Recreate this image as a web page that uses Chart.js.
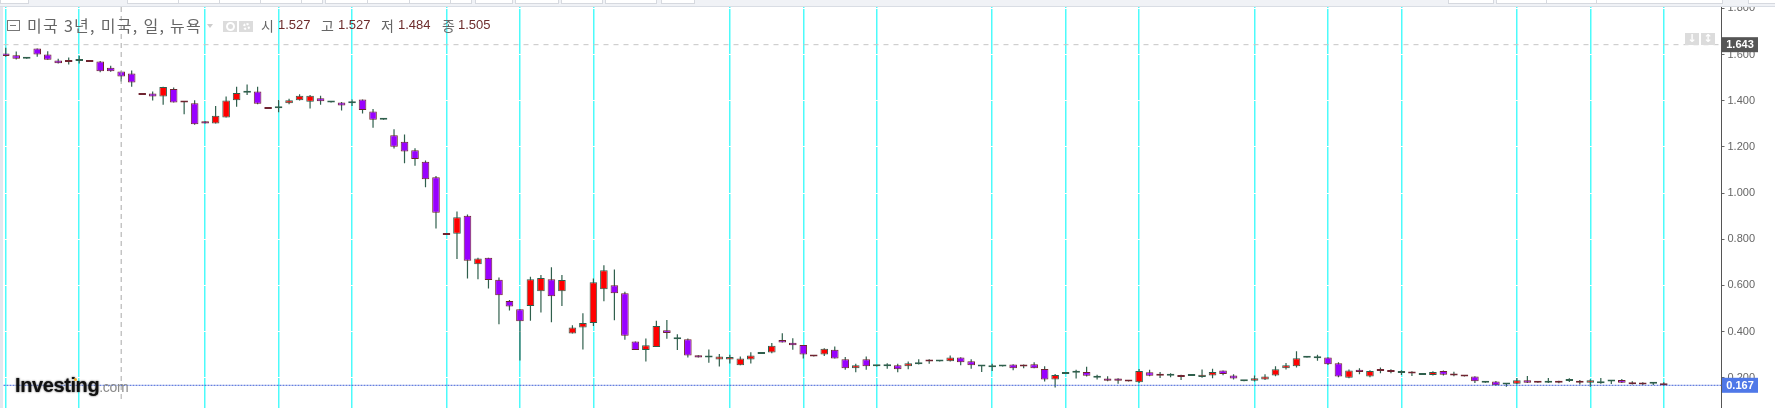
<!DOCTYPE html>
<html>
<head>
<meta charset="utf-8">
<title>미국 3년</title>
<script src="https://cdn.jsdelivr.net/npm/chart.js@4"></script>
<style>
    html, body { margin: 0; padding: 0; background: #fff; overflow: hidden; }
    #wrap { position: relative; width: 1775px; height: 408px; overflow: hidden; }
    canvas { position: absolute; left: 0; top: 0; }
    #toolbar { position: absolute; left: 0; top: 0; width: 1775px; height: 6px; background: #f0f2f6; border-bottom: 1px solid #d9dde4; }
    #toolbar i { position: absolute; top: -1px; height: 3px; background: #fff; border: 1px solid #d6d9df; }
    #leftbar { position: absolute; left: 0; top: 7px; width: 3px; height: 401px; background: #e4e7ee; }
    .t { position: absolute; top: 15px; line-height: 20px; white-space: nowrap; }
    .lab { font: 14px 'Noto Sans CJK KR', sans-serif; line-height: 20px; color: #666; }
    .val { font: 13px 'Liberation Sans', sans-serif; line-height: 20px; color: #6d2c2c; }
    .box { position: absolute; background: #dcdcdc; }
    #logo { position: absolute; left: 15px; top: 374px; white-space: nowrap; font: bold 20px 'Liberation Sans', sans-serif; letter-spacing: -0.4px; color: #111; text-shadow: 0 0 2px #444; }
    #logo span { font: 14px 'Liberation Sans', sans-serif; letter-spacing: -0.3px; color: #8a8a8a; text-shadow: none; }
</style>
</head>
<body>
<div id="wrap">
    <canvas id="chart" width="1775" height="408"></canvas>
    <div id="toolbar">
        <i style="left:0;width:27px"></i><i style="left:127px;width:50px"></i><i style="left:178px;width:41px"></i>
        <i style="left:219px;width:41px"></i><i style="left:260px;width:41px"></i><i style="left:301px;width:20px"></i>
        <i style="left:325px;width:42px"></i><i style="left:367px;width:42px"></i><i style="left:409px;width:41px"></i>
        <i style="left:450px;width:20px"></i><i style="left:475px;width:36px"></i><i style="left:515px;width:42px"></i>
        <i style="left:561px;width:40px"></i><i style="left:605px;width:50px"></i><i style="left:661px;width:32px"></i>
        <i style="left:1448px;width:44px"></i><i style="left:1496px;width:50px"></i><i style="left:1546px;width:50px"></i>
        <i style="left:1596px;width:125px"></i><i style="left:1748px;width:27px"></i>
    </div>
    <div id="leftbar"></div>

    <div style="position:absolute;left:7px;top:20px;width:11px;height:9px;border:1px solid #777;"></div>
    <div style="position:absolute;left:10px;top:25px;width:6px;height:1px;background:#777;"></div>
    <div class="t lab" style="left:27px;font-size:16px;letter-spacing:1.3px;">미국 3년, 미국, 일, 뉴욕</div>
    <div style="position:absolute;left:207px;top:24px;width:0;height:0;border-left:3px solid transparent;border-right:3px solid transparent;border-top:4px solid #ccc;"></div>
    <div class="box" style="left:223px;top:21px;width:14px;height:11px;"></div>
    <div style="position:absolute;left:226px;top:22px;width:5px;height:5px;border:2px solid #fff;border-radius:50%;"></div>
    <div class="box" style="left:239px;top:21px;width:14px;height:11px;"></div>
    <div style="position:absolute;left:243px;top:23px;width:3px;height:3px;border:2px dotted #fff;border-radius:50%;"></div>

    <div class="t lab" style="left:261px;">시</div><div class="t val" style="left:278px;">1.527</div>
    <div class="t lab" style="left:321px;">고</div><div class="t val" style="left:338px;">1.527</div>
    <div class="t lab" style="left:381px;">저</div><div class="t val" style="left:398px;">1.484</div>
    <div class="t lab" style="left:442px;">종</div><div class="t val" style="left:458px;">1.505</div>

    <div class="box" style="left:1685px;top:33px;width:14px;height:12px;color:#fff;font:bold 11px 'DejaVu Sans';line-height:12px;text-align:center;">↓</div>
    <div class="box" style="left:1701px;top:33px;width:14px;height:12px;color:#fff;font:bold 11px 'DejaVu Sans';line-height:12px;text-align:center;">↕</div>

    <div id="logo">Investing<span>.com</span></div>
    <div style="position:absolute;left:74px;top:378px;width:3px;height:3px;background:#f5a623;border-radius:50%;"></div>
</div>

<script>
    // One entry per trading day
    const opens = [
        1.605, 1.597, 1.582, 1.626, 1.601, 1.575, 1.575, 1.572, 1.576, 1.570,
        1.543, 1.527, 1.518, 1.431, 1.431, 1.419, 1.451, 1.395, 1.389, 1.311,
        1.301, 1.327, 1.402, 1.435, 1.440, 1.369, 1.367, 1.389, 1.402, 1.396,
        1.411, 1.392, 1.393, 1.389, 1.406, 1.353, 1.318, 1.251, 1.222, 1.186,
        1.136, 1.068, 0.824, 0.824, 0.902, 0.691, 0.720, 0.624, 0.532, 0.496,
        0.511, 0.575, 0.627, 0.575, 0.391, 0.417, 0.437, 0.583, 0.600, 0.566,
        0.357, 0.320, 0.333, 0.405, 0.366, 0.366, 0.297, 0.287, 0.279, 0.279,
        0.254, 0.279, 0.303, 0.309, 0.363, 0.351, 0.342, 0.296, 0.300, 0.321,
        0.280, 0.241, 0.280, 0.250, 0.250, 0.254, 0.250, 0.258, 0.273, 0.270,
        0.271, 0.287, 0.271, 0.248, 0.245, 0.248, 0.257, 0.251, 0.258, 0.238,
        0.192, 0.216, 0.221, 0.225, 0.200, 0.196, 0.196, 0.187, 0.180, 0.223,
        0.216, 0.208, 0.209, 0.207, 0.203, 0.209, 0.231, 0.209, 0.184, 0.187,
        0.192, 0.209, 0.241, 0.249, 0.286, 0.284, 0.287, 0.263, 0.200, 0.234,
        0.205, 0.235, 0.231, 0.220, 0.222, 0.212, 0.212, 0.229, 0.218, 0.209,
        0.205, 0.178, 0.183, 0.170, 0.174, 0.189, 0.184, 0.178, 0.184, 0.186,
        0.184, 0.178, 0.176, 0.183, 0.190, 0.176, 0.176, 0.174, 0.176
    ];
    const highs = [
        1.630, 1.613, 1.585, 1.626, 1.615, 1.582, 1.588, 1.595, 1.576, 1.572,
        1.552, 1.527, 1.531, 1.431, 1.440, 1.461, 1.458, 1.395, 1.402, 1.311,
        1.377, 1.418, 1.461, 1.470, 1.461, 1.369, 1.403, 1.409, 1.428, 1.425,
        1.422, 1.395, 1.395, 1.406, 1.406, 1.364, 1.321, 1.277, 1.254, 1.194,
        1.141, 1.074, 0.824, 0.920, 0.907, 0.720, 0.720, 0.634, 0.537, 0.496,
        0.637, 0.645, 0.678, 0.645, 0.427, 0.479, 0.630, 0.687, 0.669, 0.572,
        0.357, 0.370, 0.447, 0.450, 0.388, 0.370, 0.297, 0.322, 0.303, 0.299,
        0.292, 0.310, 0.306, 0.350, 0.393, 0.371, 0.342, 0.296, 0.328, 0.335,
        0.290, 0.260, 0.292, 0.254, 0.263, 0.260, 0.270, 0.280, 0.280, 0.273,
        0.296, 0.289, 0.280, 0.251, 0.260, 0.251, 0.258, 0.257, 0.267, 0.250,
        0.216, 0.219, 0.234, 0.247, 0.213, 0.206, 0.197, 0.187, 0.238, 0.234,
        0.225, 0.219, 0.213, 0.210, 0.235, 0.239, 0.231, 0.215, 0.189, 0.209,
        0.215, 0.249, 0.264, 0.315, 0.289, 0.299, 0.289, 0.267, 0.235, 0.241,
        0.232, 0.244, 0.236, 0.232, 0.228, 0.218, 0.228, 0.231, 0.226, 0.209,
        0.206, 0.184, 0.186, 0.176, 0.199, 0.207, 0.184, 0.199, 0.187, 0.197,
        0.190, 0.193, 0.199, 0.189, 0.194, 0.184, 0.180, 0.180, 0.180
    ];
    const lows = [
        1.591, 1.579, 1.582, 1.591, 1.578, 1.562, 1.557, 1.562, 1.568, 1.524,
        1.526, 1.484, 1.461, 1.425, 1.401, 1.383, 1.392, 1.341, 1.296, 1.301,
        1.301, 1.327, 1.374, 1.425, 1.385, 1.364, 1.350, 1.385, 1.401, 1.366,
        1.383, 1.392, 1.358, 1.377, 1.345, 1.283, 1.318, 1.193, 1.129, 1.118,
        1.025, 0.846, 0.818, 0.714, 0.630, 0.626, 0.586, 0.431, 0.491, 0.274,
        0.447, 0.482, 0.440, 0.511, 0.391, 0.322, 0.424, 0.531, 0.449, 0.364,
        0.320, 0.270, 0.333, 0.369, 0.320, 0.287, 0.287, 0.265, 0.248, 0.261,
        0.254, 0.261, 0.303, 0.306, 0.352, 0.321, 0.283, 0.292, 0.294, 0.283,
        0.234, 0.223, 0.234, 0.248, 0.239, 0.223, 0.236, 0.257, 0.260, 0.270,
        0.270, 0.254, 0.239, 0.225, 0.229, 0.248, 0.232, 0.241, 0.241, 0.183,
        0.157, 0.216, 0.196, 0.205, 0.192, 0.184, 0.174, 0.183, 0.177, 0.206,
        0.199, 0.202, 0.190, 0.207, 0.200, 0.197, 0.210, 0.192, 0.184, 0.183,
        0.190, 0.206, 0.235, 0.244, 0.286, 0.273, 0.255, 0.202, 0.197, 0.215,
        0.202, 0.219, 0.219, 0.212, 0.207, 0.212, 0.209, 0.209, 0.206, 0.205,
        0.177, 0.178, 0.165, 0.161, 0.171, 0.177, 0.178, 0.177, 0.176, 0.181,
        0.170, 0.161, 0.174, 0.173, 0.177, 0.170, 0.168, 0.168, 0.165
    ];
    const closes = [
        1.594, 1.582, 1.585, 1.601, 1.578, 1.563, 1.568, 1.576, 1.568, 1.528,
        1.528, 1.505, 1.479, 1.425, 1.418, 1.460, 1.392, 1.392, 1.298, 1.301,
        1.335, 1.401, 1.434, 1.440, 1.387, 1.364, 1.370, 1.402, 1.422, 1.422,
        1.398, 1.395, 1.379, 1.393, 1.360, 1.318, 1.321, 1.201, 1.180, 1.148,
        1.060, 0.915, 0.818, 0.895, 0.707, 0.716, 0.623, 0.557, 0.508, 0.444,
        0.627, 0.632, 0.553, 0.623, 0.417, 0.437, 0.614, 0.665, 0.566, 0.382,
        0.320, 0.340, 0.424, 0.394, 0.370, 0.296, 0.287, 0.296, 0.292, 0.290,
        0.283, 0.296, 0.306, 0.338, 0.352, 0.341, 0.300, 0.292, 0.325, 0.283,
        0.241, 0.254, 0.250, 0.254, 0.254, 0.236, 0.263, 0.267, 0.270, 0.273,
        0.287, 0.267, 0.254, 0.251, 0.251, 0.251, 0.241, 0.248, 0.241, 0.192,
        0.212, 0.219, 0.223, 0.208, 0.205, 0.187, 0.187, 0.183, 0.229, 0.208,
        0.208, 0.213, 0.203, 0.210, 0.213, 0.225, 0.216, 0.196, 0.189, 0.197,
        0.205, 0.236, 0.254, 0.284, 0.289, 0.289, 0.258, 0.205, 0.231, 0.225,
        0.229, 0.229, 0.225, 0.226, 0.218, 0.218, 0.225, 0.213, 0.209, 0.205,
        0.184, 0.184, 0.167, 0.176, 0.189, 0.178, 0.178, 0.184, 0.178, 0.190,
        0.178, 0.189, 0.181, 0.189, 0.178, 0.171, 0.170, 0.177, 0.167
    ];
    const monthStarts = [0, 7, 19, 26, 33, 42, 49, 56, 69, 76, 83, 94, 101, 108, 119, 126, 133, 144, 151, 158];
    const tickValues = [0.2, 0.4, 0.6, 0.8, 1.0, 1.2, 1.4, 1.6, 1.8];
    const highLine = 1.643;
    const lastLine = 0.167;
    const cursorIndex = 11;

    const UP = '#ff0000';
    const DOWN = '#9900ff';
    const UP_EDGE = '#2f5f4c';
    const DOWN_EDGE = '#6f2430';
    const isUp = i => closes[i] >= opens[i];

    // 5 empty slots to the right of the last candle, as in the chart
    const slots = Array.from({ length: opens.length + 5 }, (_, i) => i);

    // price lines, cursor and the two value badges, placed from the scales
    const overlays = {
        id: 'overlays',
        afterDraw(chart) {
            const { ctx, chartArea, scales } = chart;
            const y = scales.y;

            ctx.save();
            ctx.lineWidth = 1;
            ctx.strokeStyle = '#c6c6c6';
            ctx.setLineDash([5, 5]);
            ctx.beginPath();
            ctx.moveTo(chartArea.left + 3, y.getPixelForValue(highLine));
            ctx.lineTo(chartArea.right, y.getPixelForValue(highLine));
            ctx.stroke();

            ctx.strokeStyle = '#a8a8a8';
            ctx.setLineDash([5, 4]);
            ctx.beginPath();
            ctx.moveTo(scales.x.getPixelForValue(cursorIndex), chartArea.top);
            ctx.lineTo(scales.x.getPixelForValue(cursorIndex), 402);
            ctx.stroke();

            ctx.strokeStyle = '#3e5ed6';
            ctx.setLineDash([2, 1]);
            ctx.beginPath();
            ctx.moveTo(chartArea.left + 3, y.getPixelForValue(lastLine));
            ctx.lineTo(chartArea.right, y.getPixelForValue(lastLine));
            ctx.stroke();
            ctx.setLineDash([]);

            ctx.font = 'bold 11px "Liberation Sans", sans-serif';
            ctx.textAlign = 'center';
            ctx.textBaseline = 'middle';
            [[highLine, '#555555'], [lastLine, '#4f78e8']].forEach(([value, color]) => {
                const py = y.getPixelForValue(value);
                ctx.fillStyle = color;
                ctx.fillRect(chartArea.right + 0.5, py - 7.5, 36, 15);
                ctx.fillStyle = '#fff';
                ctx.fillText(value.toFixed(3), chartArea.right + 18.5, py + 0.5);
            });
            ctx.restore();
        }
    };

    new Chart(document.getElementById('chart'), {
        type: 'bar',
        data: {
            labels: slots,
            datasets: [
                {
                    // wicks
                    data: lows.map((low, i) => [low, highs[i]]),
                    backgroundColor: UP_EDGE,
                    barThickness: 1.2,
                    grouped: false,
                    order: 2,
                    borderWidth: 0,
                    inflateAmount: 0
                },
                {
                    // bodies
                    data: opens.map((open, i) => [open, closes[i]]),
                    backgroundColor: c => isUp(c.dataIndex) ? UP : DOWN,
                    borderColor: c => isUp(c.dataIndex) ? UP_EDGE : DOWN_EDGE,
                    borderWidth: 1,
                    borderSkipped: false,
                    barThickness: 7.6,
                    minBarLength: 2,
                    grouped: false,
                    order: 1,
                    inflateAmount: 0
                }
            ]
        },
        options: {
            responsive: false,
            animation: false,
            layout: { padding: { top: 7, left: 0.5 } },
            plugins: { legend: { display: false }, tooltip: { enabled: false } },
            scales: {
                x: {
                    type: 'category',
                    afterBuildTicks: scale => { scale.ticks = monthStarts.map(value => ({ value })); },
                    afterFit: scale => {
                        scale.height = 0;
                        scale.paddingLeft = 0;
                        scale.paddingRight = 0;
                    },
                    ticks: { display: false, autoSkip: false },
                    grid: { color: '#4dfbfb', lineWidth: 1.5, offset: false, drawTicks: false, z: -2 },
                    border: { display: false }
                },
                y: {
                    position: 'right',
                    min: 0.0686,
                    max: 1.8063,
                    afterBuildTicks: scale => { scale.ticks = tickValues.map(value => ({ value })); },
                    afterFit: scale => {
                        scale.width = 53.5;
                        scale.paddingTop = 0;
                        scale.paddingBottom = 0;
                    },
                    ticks: {
                        padding: 3,
                        color: '#666',
                        font: { family: '"Liberation Sans", sans-serif', size: 11 },
                        callback: value => value.toFixed(3)
                    },
                    grid: { color: '#fff', lineWidth: 1, tickColor: '#666', tickLength: 3, z: -1 },
                    border: { color: '#555', width: 1 }
                }
            }
        },
        plugins: [overlays]
    });
</script>
</body>
</html>
